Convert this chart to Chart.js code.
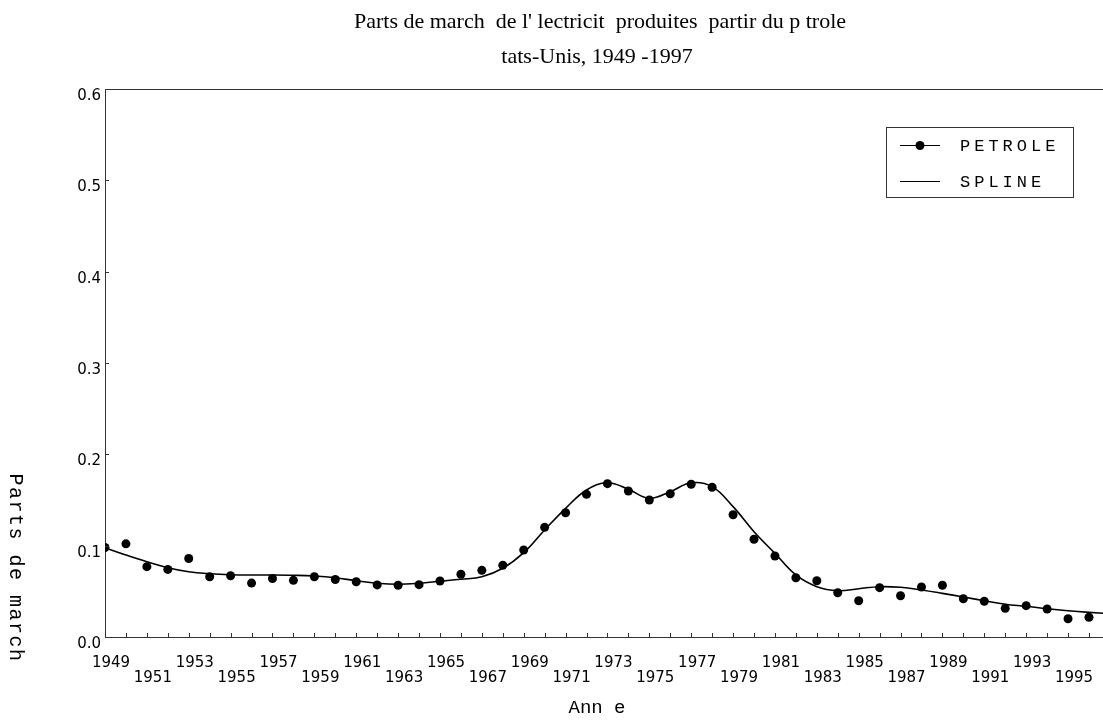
<!DOCTYPE html>
<html>
<head>
<meta charset="utf-8">
<script src="https://cdn.jsdelivr.net/npm/chart.js@4/dist/chart.umd.min.js"></script>
<style>
  html, body { margin: 0; padding: 0; background: #fff; }
  #wrap { width: 1103px; height: 722px; }
</style>
</head>
<body>
<div id="wrap"><canvas id="chart" width="1103" height="722"></canvas></div>
<script>
// ===== Data =====
const years = [
  1949, 1950, 1951, 1952, 1953, 1954, 1955, 1956, 1957, 1958, 1959, 1960,
  1961, 1962, 1963, 1964, 1965, 1966, 1967, 1968, 1969, 1970, 1971, 1972,
  1973, 1974, 1975, 1976, 1977, 1978, 1979, 1980, 1981, 1982, 1983, 1984,
  1985, 1986, 1987, 1988, 1989, 1990, 1991, 1992, 1993, 1994, 1995, 1996,
];
const petrole = [
  0.098, 0.102, 0.077, 0.074, 0.086, 0.066, 0.067, 0.059, 0.064, 0.062, 0.066, 0.063,
  0.0605, 0.057, 0.0566, 0.0573, 0.0613, 0.0687, 0.073, 0.0785, 0.0953, 0.1201, 0.1361, 0.1562,
  0.1679, 0.1599, 0.15, 0.1569, 0.1672, 0.1639, 0.1339, 0.107, 0.0887, 0.0649, 0.0616, 0.0485,
  0.0397, 0.054, 0.0452, 0.0547, 0.0566, 0.0419, 0.0391, 0.0314, 0.0343, 0.0307, 0.02, 0.0216,
];
const splineYears = [...years, 1997];
const spline = [
  0.0978, 0.0898, 0.0824, 0.0759, 0.0715, 0.0693, 0.0682, 0.0679, 0.0679, 0.0676, 0.0668, 0.0649,
  0.0616, 0.0588, 0.0577, 0.0588, 0.061, 0.0632, 0.066, 0.0752, 0.0923, 0.1172, 0.1409, 0.161,
  0.1689, 0.1617, 0.1519, 0.1591, 0.1689, 0.1646, 0.1427, 0.1153, 0.0916, 0.0679, 0.0551, 0.0507,
  0.0529, 0.0551, 0.0544, 0.0515, 0.0478, 0.0438, 0.0397, 0.0358, 0.0336, 0.031, 0.0288, 0.027,
  0.0255,
];
const yTicks = [0, 0.1, 0.2, 0.3, 0.4, 0.5, 0.6];

const titleLines = [
  "Parts de march  de l' lectricit  produites  partir du p trole",
  "tats-Unis, 1949 -1997",
];
const xTitle = "Ann e";
const yTitle = "Parts de march";
const legendItems = ["PETROLE", "SPLINE"];

const ink = "#000";
const axisColor = "#333";

// ===== Decorations: titles, inward ticks, top border, legend =====
const decorPlugin = {
  id: "decor",
  afterDraw(chart) {
    const { ctx, chartArea: a, scales } = chart;
    ctx.save();

    // top frame line
    ctx.strokeStyle = axisColor;
    ctx.lineWidth = 1;
    ctx.beginPath();
    ctx.moveTo(a.left, a.top + 0.5);
    ctx.lineTo(chart.width, a.top + 0.5);
    ctx.stroke();

    // inward ticks
    ctx.beginPath();
    years.forEach((yr) => {
      const px = Math.round(scales.x.getPixelForValue(yr)) + 0.5;
      ctx.moveTo(px, a.bottom);
      ctx.lineTo(px, a.bottom - 4);
    });
    yTicks.forEach((v) => {
      const py = Math.round(scales.y.getPixelForValue(v)) + 0.5;
      ctx.moveTo(a.left, py);
      ctx.lineTo(a.left + 4, py);
    });
    ctx.stroke();

    // titles
    ctx.fillStyle = ink;
    ctx.textAlign = "center";
    ctx.textBaseline = "middle";
    ctx.font = "22px 'Liberation Serif'";
    ctx.fillText(titleLines[0], 600, 22);
    ctx.fillText(titleLines[1], 597, 57);

    // axis titles
    ctx.font = "19px 'Liberation Mono'";
    ctx.fillText(xTitle, 597, 708);
    ctx.save();
    ctx.translate(15, 568);
    ctx.rotate(Math.PI / 2);
    ctx.font = "20px 'Liberation Mono'";
    if ("letterSpacing" in ctx) ctx.letterSpacing = "1.5px";
    ctx.fillText(yTitle, 0, 0);
    ctx.restore();

    // legend
    const bx = 886, by = 127, bw = 187, bh = 70;
    ctx.fillStyle = "#fff";
    ctx.fillRect(bx, by, bw, bh);
    ctx.strokeStyle = axisColor;
    ctx.lineWidth = 1;
    ctx.strokeRect(bx + 0.5, by + 0.5, bw, bh);
    ctx.strokeStyle = ink;
    ctx.fillStyle = ink;
    const rows = [145, 181];
    rows.forEach((ry, i) => {
      ctx.beginPath();
      ctx.moveTo(900, ry + 0.5);
      ctx.lineTo(940, ry + 0.5);
      ctx.stroke();
      if (i === 0) {
        ctx.beginPath();
        ctx.arc(920, ry + 0.5, 4.5, 0, Math.PI * 2);
        ctx.fill();
      }
      ctx.textAlign = "left";
      ctx.font = "17px 'Liberation Mono'";
      if ("letterSpacing" in ctx) ctx.letterSpacing = "4px";
      ctx.fillText(legendItems[i], 960, ry + 1);
      if ("letterSpacing" in ctx) ctx.letterSpacing = "0px";
    });

    ctx.restore();
  },
};

const bgPlugin = {
  id: "bg",
  beforeDraw(chart) {
    const { ctx, width, height } = chart;
    ctx.save();
    ctx.fillStyle = "#fff";
    ctx.fillRect(0, 0, width, height);
    ctx.restore();
  },
};

new Chart(document.getElementById("chart"), {
  type: "line",
  data: {
    datasets: [
      {
        label: legendItems[0],
        data: years.map((yr, i) => ({ x: yr, y: petrole[i] })),
        showLine: false,
        pointRadius: 4.5,
        pointBackgroundColor: ink,
        pointBorderColor: ink,
        pointBorderWidth: 0,
      },
      {
        label: legendItems[1],
        data: splineYears.map((yr, i) => ({ x: yr, y: spline[i] })),
        borderColor: ink,
        borderWidth: 1.6,
        tension: 0.4,
        pointRadius: 0,
        fill: false,
      },
    ],
  },
  options: {
    responsive: false,
    animation: false,
    layout: {
      autoPadding: false,
      padding: { left: 0, right: 0, top: 89, bottom: 0 },
    },
    plugins: {
      legend: { display: false },
      tooltip: { enabled: false },
      title: { display: false },
    },
    scales: {
      x: {
        type: "linear",
        min: 1949,
        max: 1996.67,
        afterFit: (scale) => {
          scale.height = 85;
          scale.paddingLeft = 0;
          scale.paddingRight = 0;
        },
        afterBuildTicks: (scale) => {
          scale.ticks = years.map((yr) => ({ value: yr }));
        },
        grid: { display: false, drawTicks: false },
        border: { display: true, color: axisColor, width: 1 },
        ticks: {
          autoSkip: false,
          maxRotation: 0,
          padding: 19,
          labelOffset: 6,
          color: ink,
          font: { family: "'DejaVu Sans'", size: 15, lineHeight: 1 },
          callback: (v) => {
            if (v % 2 === 0) return "";
            const upper = ((v - 1949) / 2) % 2 === 0;
            return upper ? [String(v), ""] : ["", String(v)];
          },
        },
      },
      y: {
        min: 0,
        max: 0.6,
        afterFit: (scale) => {
          scale.width = 105;
          scale.paddingTop = 0;
          scale.paddingBottom = 0;
        },
        afterBuildTicks: (scale) => {
          scale.ticks = yTicks.map((v) => ({ value: v }));
        },
        grid: { display: false, drawTicks: false },
        border: { display: true, color: axisColor, width: 1 },
        ticks: {
          padding: 4,
          labelOffset: 7,
          color: ink,
          font: { family: "'DejaVu Sans'", size: 15 },
          callback: (v) => v.toFixed(1),
        },
      },
    },
  },
  plugins: [bgPlugin, decorPlugin],
});
</script>
</body>
</html>
